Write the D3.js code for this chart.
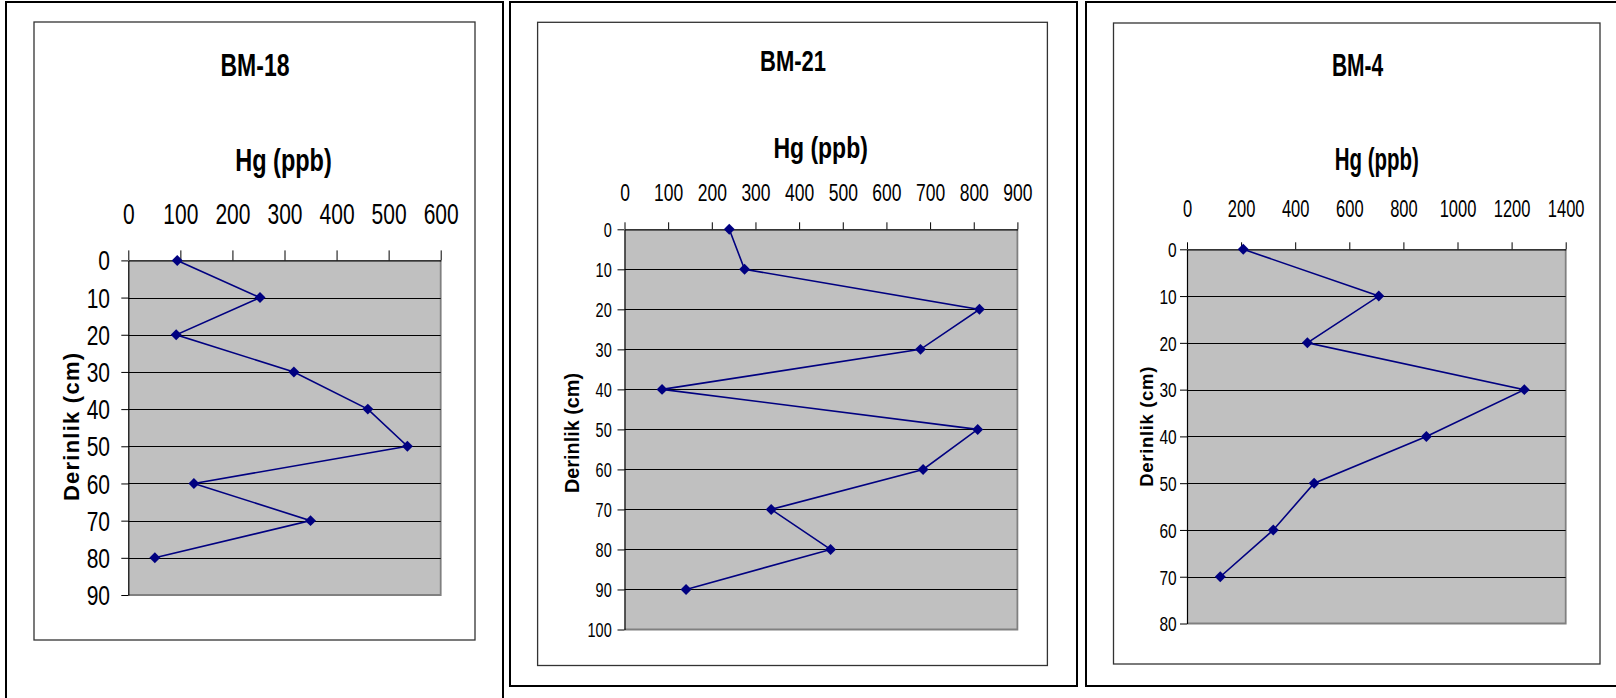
<!DOCTYPE html>
<html>
<head>
<meta charset="utf-8">
<script src="https://cdn.jsdelivr.net/npm/d3@7"></script>
<style>
  html, body { margin: 0; padding: 0; background: #ffffff; }
  svg { display: block; font-family: "Liberation Sans", Arial, sans-serif; }
</style>
</head>
<body>
<script>
// ---------------- DATA ----------------
const titles = ["BM-18", "BM-21", "BM-4"];
const xAxisTitle = "Hg (ppb)";
const yAxisTitle = "Derinlik (cm)";

const bm18Depth = [0, 10, 20, 30, 40, 50, 60, 70, 80];
const bm18Hg    = [94, 253, 92, 318, 460, 536, 126, 350, 51];
const bm18XTicks = [0, 100, 200, 300, 400, 500, 600];
const bm18YTicks = [0, 10, 20, 30, 40, 50, 60, 70, 80, 90];

const bm21Depth = [0, 10, 20, 30, 40, 50, 60, 70, 80, 90];
const bm21Hg    = [240, 275, 813, 678, 86, 809, 684, 336, 472, 141];
const bm21XTicks = [0, 100, 200, 300, 400, 500, 600, 700, 800, 900];
const bm21YTicks = [0, 10, 20, 30, 40, 50, 60, 70, 80, 90, 100];

const bm4Depth = [0, 10, 20, 30, 40, 50, 60, 70];
const bm4Hg    = [208, 709, 445, 1247, 885, 470, 319, 123];
const bm4XTicks = [0, 200, 400, 600, 800, 1000, 1200, 1400];
const bm4YTicks = [0, 10, 20, 30, 40, 50, 60, 70, 80];

// ---------------- LAYOUT ----------------
const W = 1616, H = 698;
const svg = d3.select("body").append("svg").attr("width", W).attr("height", H);

// outer page frames
svg.append("path").attr("d", "M6,698 V2 H503 V698")
  .attr("fill", "none").attr("stroke", "#000").attr("stroke-width", 2);
svg.append("path").attr("d", "M510,2 H1077 V686 H510 Z")
  .attr("fill", "none").attr("stroke", "#000").attr("stroke-width", 2);
svg.append("path").attr("d", "M1616,2 H1086 V686 H1616")
  .attr("fill", "none").attr("stroke", "#000").attr("stroke-width", 2);

const panels = [
  {
    depth: bm18Depth, hg: bm18Hg, xTicks: bm18XTicks, yTicks: bm18YTicks, title: titles[0],
    box: [34, 22, 475, 640],
    plot: { l: 128.3, r: 440.7, t: 260.4, b: 595 },
    titlePos: [255, 65], titleSize: 23, titleSy: 1.35,
    hgPos: [283.5, 160.5], hgSize: 23.5, hgSy: 1.3,
    xLabY: 214, xLabSize: 21, xLabSy: 1.38, xTick: 10,
    yLabR: 110, yLabSize: 21, yLabSy: 1.3, yTick: 7,
    yTitlePos: [71.7, 427], yTitleSize: 22, yTitleLen: 148, yTitleAdj: "spacing"
  },
  {
    depth: bm21Depth, hg: bm21Hg, xTicks: bm21XTicks, yTicks: bm21YTicks, title: titles[1],
    box: [537.6, 22.3, 1047.4, 665.5],
    plot: { l: 624.5, r: 1017.4, t: 229.3, b: 629.5 },
    titlePos: [793, 61], titleSize: 22, titleSy: 1.35,
    hgPos: [820.6, 148], hgSize: 23, hgSy: 1.25,
    xLabY: 193, xLabSize: 17.5, xLabSy: 1.35, xTick: 7,
    yLabR: 611.7, yLabSize: 14.5, yLabSy: 1.35, yTick: 7,
    yTitlePos: [571.7, 433], yTitleSize: 19.5, yTitleLen: 120, yTitleAdj: "spacingAndGlyphs"
  },
  {
    depth: bm4Depth, hg: bm4Hg, xTicks: bm4XTicks, yTicks: bm4YTicks, title: titles[2],
    box: [1113.5, 23, 1600, 664],
    plot: { l: 1187, r: 1565.7, t: 249.3, b: 623.5 },
    titlePos: [1357.6, 65.4], titleSize: 21, titleSy: 1.5,
    hgPos: [1376.8, 159], hgSize: 20.5, hgSy: 1.5,
    xLabY: 208, xLabSize: 16.5, xLabSy: 1.5, xTick: 7,
    yLabR: 1176.7, yLabSize: 15.5, yLabSy: 1.35, yTick: 7,
    yTitlePos: [1146.7, 426.7], yTitleSize: 18.5, yTitleLen: 120, yTitleAdj: "spacing"
  }
];

function stretchedText(g, x, y, txt, size, sy, weight) {
  return g.append("text")
    .attr("transform", `translate(${x},${y}) scale(1,${sy})`)
    .attr("text-anchor", "middle")
    .attr("dy", "0.35em")
    .attr("font-size", size)
    .attr("font-weight", weight)
    .attr("fill", "#000")
    .text(txt);
}

panels.forEach(p => {
  const g = svg.append("g");
  const [bx0, by0, bx1, by1] = p.box;
  // chart area border
  g.append("rect").attr("x", bx0).attr("y", by0)
    .attr("width", bx1 - bx0).attr("height", by1 - by0)
    .attr("fill", "#fff").attr("stroke", "#333").attr("stroke-width", 1.3);

  const xMax = p.xTicks[p.xTicks.length - 1];
  const yMax = p.yTicks[p.yTicks.length - 1];
  const x = d3.scaleLinear().domain([0, xMax]).range([p.plot.l, p.plot.r]);
  const y = d3.scaleLinear().domain([0, yMax]).range([p.plot.t, p.plot.b]);

  // plot background
  g.append("rect").attr("x", x(0)).attr("y", y(0))
    .attr("width", x(xMax) - x(0)).attr("height", y(yMax) - y(0))
    .attr("fill", "#c0c0c0");
  // right & bottom border (gray)
  g.append("path")
    .attr("d", `M${x(xMax)},${y(0)} V${y(yMax)} H${x(0)}`)
    .attr("fill", "none").attr("stroke", "#808080").attr("stroke-width", 1.8);

  // gridlines
  g.append("g").selectAll("line")
    .data(p.yTicks.filter(v => v > 0 && v < yMax))
    .join("line")
    .attr("x1", x(0)).attr("x2", x(xMax))
    .attr("y1", d => Math.round(y(d)) + 0.5).attr("y2", d => Math.round(y(d)) + 0.5)
    .attr("stroke", "#000").attr("stroke-width", 1);

  // top (x) axis
  const xAxis = g.append("g").attr("transform", `translate(0,${y(0)})`)
    .call(d3.axisTop(x).tickValues(p.xTicks).tickSize(p.xTick).tickSizeOuter(0).tickFormat(d3.format("d")));
  xAxis.attr("font-family", null);
  xAxis.select(".domain").attr("stroke", "#000").attr("stroke-width", 1.2);
  xAxis.selectAll(".tick line").attr("stroke", "#000").attr("stroke-width", 1);
  xAxis.selectAll(".tick text")
    .attr("y", null).attr("dy", "0.35em")
    .attr("transform", `translate(0,${p.xLabY - y(0)}) scale(1,${p.xLabSy})`)
    .attr("font-size", p.xLabSize)
    .attr("fill", "#000");

  // left (y) axis
  const yAxis = g.append("g").attr("transform", `translate(${x(0)},0)`)
    .call(d3.axisLeft(y).tickValues(p.yTicks).tickSize(p.yTick).tickSizeOuter(0).tickFormat(d3.format("d")));
  yAxis.attr("font-family", null);
  yAxis.select(".domain").attr("stroke", "#000").attr("stroke-width", 1.2);
  yAxis.selectAll(".tick line").attr("stroke", "#000").attr("stroke-width", 1);
  yAxis.selectAll(".tick text")
    .attr("x", p.yLabR - x(0)).attr("y", 0).attr("dy", "0.35em")
    .attr("text-anchor", "end")
    .attr("transform", `scale(1,${p.yLabSy})`)
    .attr("font-size", p.yLabSize)
    .attr("fill", "#000");

  // series line
  const pts = p.depth.map((d, i) => ({ d: d, v: p.hg[i] }));
  g.append("path").datum(pts)
    .attr("fill", "none").attr("stroke", "#000080").attr("stroke-width", 1.6)
    .attr("d", d3.line().x(d => x(d.v)).y(d => y(d.d)));
  // diamond markers
  g.append("g").selectAll("path")
    .data(pts).join("path")
    .attr("transform", d => `translate(${x(d.v)},${y(d.d)}) rotate(45)`)
    .attr("d", d3.symbol(d3.symbolSquare, 60))
    .attr("fill", "#000080");

  // titles
  stretchedText(g, p.titlePos[0], p.titlePos[1], p.title, p.titleSize, p.titleSy, "bold");
  stretchedText(g, p.hgPos[0], p.hgPos[1], xAxisTitle, p.hgSize, p.hgSy, "bold");
  g.append("text")
    .attr("transform", `translate(${p.yTitlePos[0]},${p.yTitlePos[1]}) rotate(-90)`)
    .attr("text-anchor", "middle").attr("dy", "0.35em")
    .attr("font-size", p.yTitleSize).attr("font-weight", "bold")
    .attr("textLength", p.yTitleLen).attr("lengthAdjust", p.yTitleAdj)
    .attr("fill", "#000")
    .text(yAxisTitle);
});
</script>
</body>
</html>
